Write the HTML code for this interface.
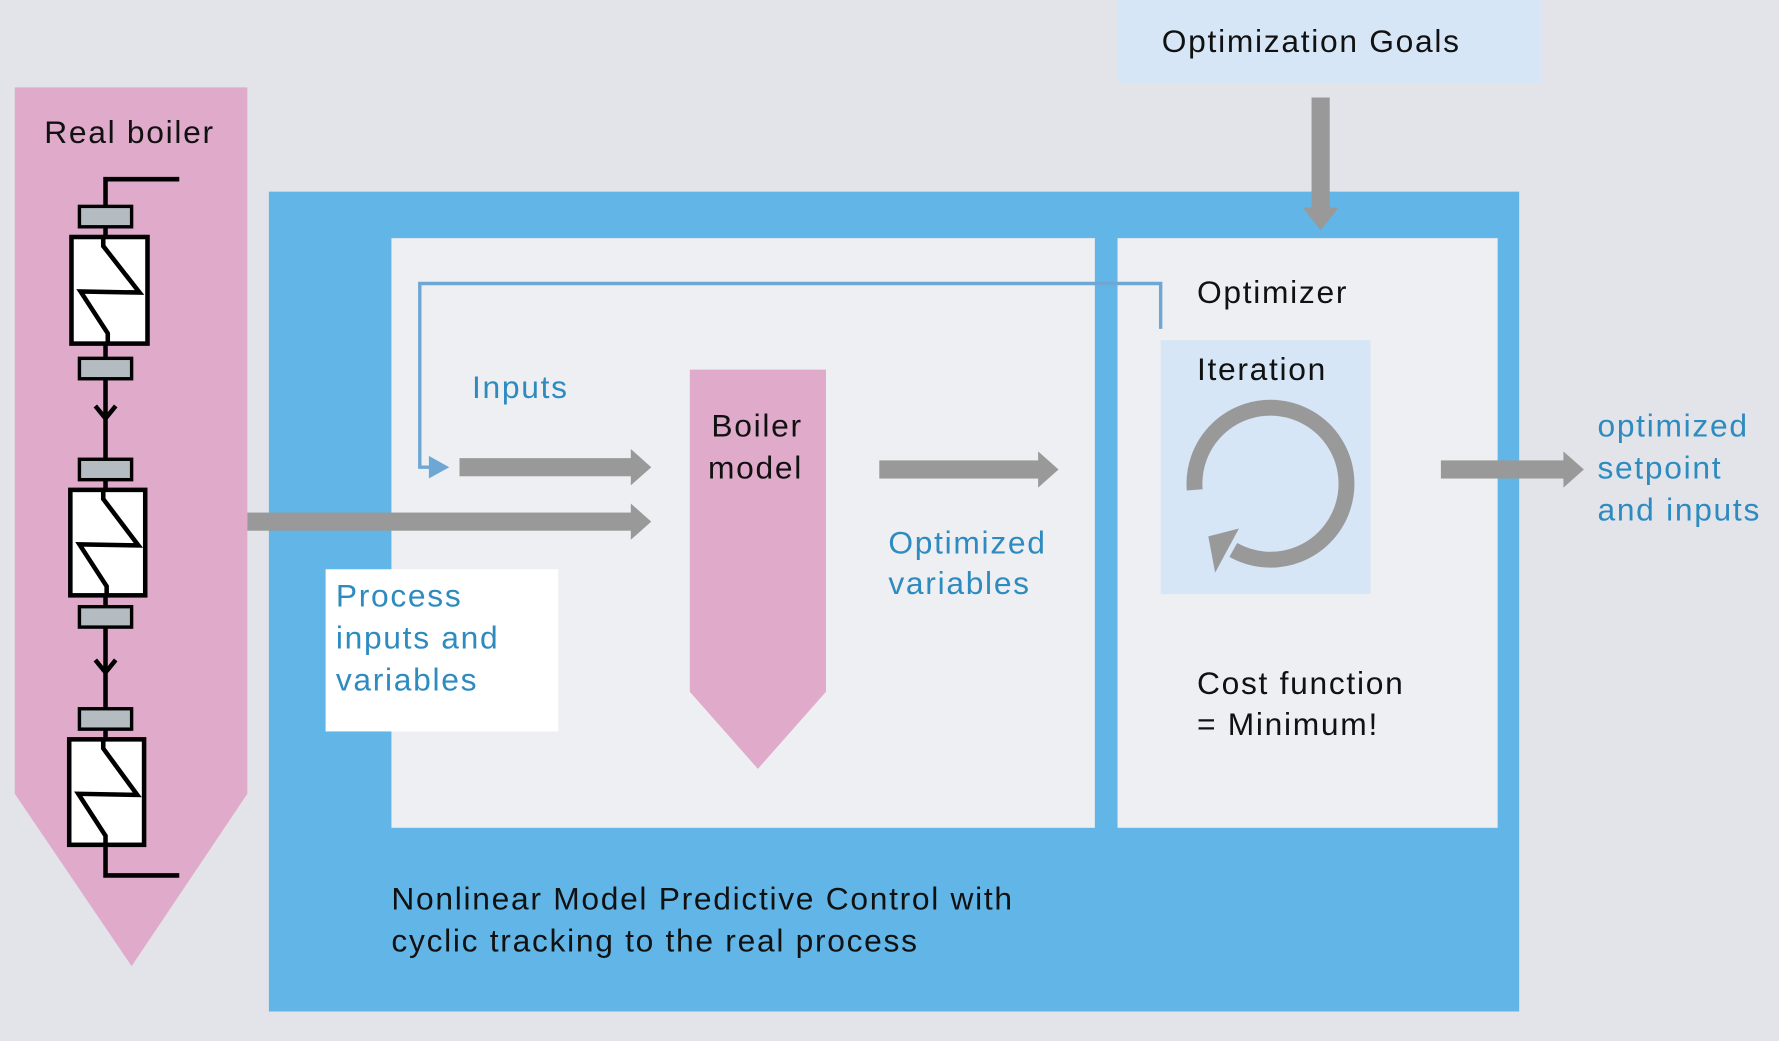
<!DOCTYPE html>
<html><head><meta charset="utf-8"><style>html,body{margin:0;padding:0;background:#e2e4ea}svg{display:block}text{font-family:"Liberation Sans","DejaVu Sans",sans-serif;font-size:28px;letter-spacing:1.5px}</style></head>
<body>
<svg width="1779" height="1041" viewBox="0 0 1568 918" preserveAspectRatio="none" xmlns="http://www.w3.org/2000/svg">
<rect width="1568" height="918" fill="#e2e4ea"/>
<rect x="985" y="0" width="373" height="73" fill="#d6e6f6"/>
<text x="1024" y="46" fill="#111">Optimization Goals</text>
<rect x="237" y="169" width="1102" height="723" fill="#62b6e7"/>
<rect x="345" y="210" width="620" height="520" fill="#eeeff2"/>
<rect x="985" y="210" width="335" height="520" fill="#eeeff2"/>
<rect x="1023" y="300" width="185" height="224" fill="#d6e6f6"/>
<rect x="1156" y="86" width="16" height="100" fill="#999"/>
<polygon points="1148,183 1180,183 1164,203" fill="#999"/>
<polygon points="13,77 218,77 218,700 116,852 13,700" fill="#e0aacb"/>
<text x="39" y="126" fill="#111">Real boiler</text>
<g stroke="#000" stroke-width="4" fill="none">
<polyline points="158,158 93,158 93,772 158,772"/>
</g>
<g fill="#b4bcc2" stroke="#000" stroke-width="3">
<rect x="70" y="182" width="46" height="18"/><rect x="70" y="316" width="46" height="18"/>
<rect x="70" y="405" width="46" height="18"/><rect x="70" y="535" width="46" height="18"/>
<rect x="70" y="625" width="46" height="18"/>
</g>
<g fill="#fff" stroke="#000" stroke-width="4">
<rect x="63" y="209" width="67" height="94"/><rect x="62" y="432" width="66" height="93"/><rect x="61" y="652" width="66" height="93"/>
</g>
<g stroke="#000" stroke-width="4" fill="none">
<polyline points="91,209 91,217 123,258 71,257 95,294 95,303"/>
<polyline points="91,432 91,440 122,481 70,480 94,517 94,525"/>
<polyline points="91,652 91,660 121,701 69,700 93,737 93,745"/>
<polyline points="84,358 93,369 102,358"/>
<polyline points="84,582 93,593 102,582"/>
</g>
<polyline points="1023,290 1023,250 370,250 370,412 382,412" fill="none" stroke="#6fa7d4" stroke-width="3"/>
<polygon points="378,402 396,412 378,422" fill="#6fa7d4"/>
<g fill="#999">
<rect x="405" y="404" width="153" height="16"/><polygon points="556,396 574,412 556,428"/>
<rect x="218" y="452" width="340" height="16"/><polygon points="556,444 574,460 556,476"/>
<rect x="775" y="406" width="142" height="16"/><polygon points="915,398 933,414 915,430"/>
<rect x="1270" y="406" width="110" height="16"/><polygon points="1378,398 1396,414 1378,430"/>
</g>
<polygon points="608,326 728,326 728,610 668,678 608,610" fill="#e0aacb"/>
<text x="627" y="385" fill="#111">Boiler</text>
<text x="624" y="422" fill="#111">model</text>
<text x="416" y="351" fill="#2e8bc0">Inputs</text>
<rect x="287" y="502" width="205" height="143" fill="#fff"/>
<text x="296" y="535" fill="#2e8bc0">Process</text>
<text x="296" y="572" fill="#2e8bc0">inputs and</text>
<text x="296" y="609" fill="#2e8bc0">variables</text>
<text x="783" y="488" fill="#2e8bc0">Optimized</text>
<text x="783" y="524" fill="#2e8bc0">variables</text>
<text x="1055" y="267" fill="#111">Optimizer</text>
<text x="1055" y="335" fill="#111">Iteration</text>
<path d="M1053,432 A67,67 0 1 1 1087,485" fill="none" stroke="#999" stroke-width="14"/>
<polygon points="1071,505 1065,473 1092,466" fill="#999"/>
<text x="1055" y="612" fill="#111">Cost function</text>
<text x="1055" y="648" fill="#111">= Minimum!</text>
<text x="1408" y="385" fill="#2e8bc0">optimized</text>
<text x="1408" y="422" fill="#2e8bc0">setpoint</text>
<text x="1408" y="459" fill="#2e8bc0">and inputs</text>
<text x="345" y="802" fill="#111">Nonlinear Model Predictive Control with</text>
<text x="345" y="839" fill="#111">cyclic tracking to the real process</text>
</svg>
</body></html>
